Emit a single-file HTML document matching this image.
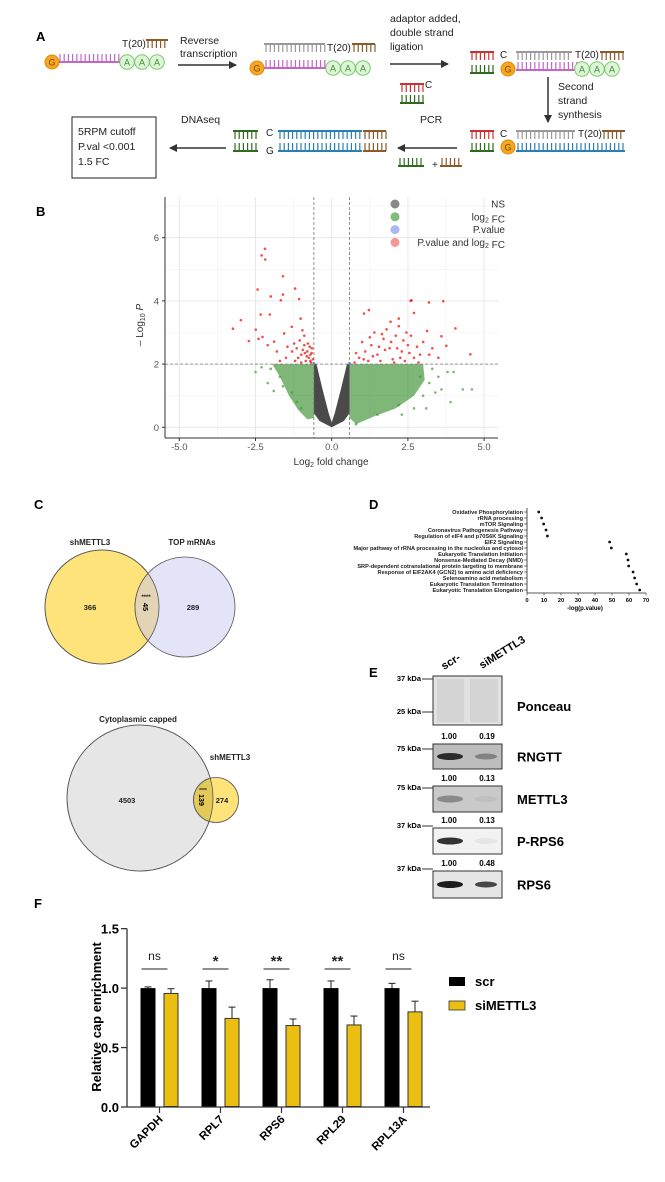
<!DOCTYPE html>
<html><head><meta charset="utf-8"><style>
html,body{margin:0;padding:0;background:#fff;}
svg{display:block;font-family:"Liberation Sans",sans-serif;}
.b{font-weight:bold;}
</style></head><body>
<svg id="fig" width="665" height="1182" viewBox="0 0 665 1182" xmlns="http://www.w3.org/2000/svg">
<defs>
<marker id="ah" markerWidth="8" markerHeight="8" refX="7" refY="4" orient="auto" markerUnits="userSpaceOnUse"><path d="M0,0 L8,4 L0,8 z" fill="#333"/></marker>
</defs>
<text x="36" y="41" class="b" font-size="13">A</text>
<text x="36" y="216" class="b" font-size="13">B</text>
<text x="34" y="509" class="b" font-size="13">C</text>
<text x="369" y="509" class="b" font-size="13">D</text>
<text x="369" y="677" class="b" font-size="13">E</text>
<text x="34" y="908" class="b" font-size="13">F</text>

<g id="panelA" font-size="10.5" fill="#222">
<text x="180" y="44"><tspan x="180">Reverse</tspan><tspan x="180" dy="13">transcription</tspan></text>
<line x1="178" y1="65" x2="236" y2="65" stroke="#333" stroke-width="1.5" marker-end="url(#ah)"/>
<text x="390" y="22"><tspan x="390">adaptor added,</tspan><tspan x="390" dy="14">double strand</tspan><tspan x="390" dy="14">ligation</tspan></text>
<line x1="390" y1="64" x2="448" y2="64" stroke="#333" stroke-width="1.5" marker-end="url(#ah)"/>
<text x="558" y="90"><tspan x="558">Second</tspan><tspan x="558" dy="14">strand</tspan><tspan x="558" dy="14">synthesis</tspan></text>
<line x1="548" y1="77" x2="548" y2="122" stroke="#333" stroke-width="1.5" marker-end="url(#ah)"/>
<text x="420" y="123">PCR</text>
<line x1="457" y1="148" x2="398" y2="148" stroke="#333" stroke-width="1.5" marker-end="url(#ah)"/>
<text x="181" y="123">DNAseq</text>
<line x1="226" y1="148" x2="170" y2="148" stroke="#333" stroke-width="1.5" marker-end="url(#ah)"/>
<rect x="72" y="117" width="84" height="61" fill="#fff" stroke="#222" stroke-width="1"/>
<text x="78" y="135"><tspan x="78">5RPM cutoff</tspan><tspan x="78" dy="15">P.val &lt;0.001</tspan><tspan x="78" dy="15">1.5 FC</tspan></text>
<text x="432" y="168" font-size="10">+</text>
</g>

<g id="volcano"></g>
<g id="venn"></g>
<g id="dotplot"></g>
<g id="western"></g>
<g id="bars"></g>
</svg>
<script>
var NS="http://www.w3.org/2000/svg";
function mk(tag,attrs,parent,text){var e=document.createElementNS(NS,tag);for(var k in attrs)e.setAttribute(k,attrs[k]);if(text!==undefined)e.textContent=text;parent.appendChild(e);return e;}

var A=document.getElementById('panelA');
function comb(x1,x2,y,up,color){
  var g=mk('g',{},A);
  
  
  mk('line',{x1:x1,y1:y,x2:x2,y2:y,stroke:color,'stroke-width':2},g);
  for(var x=x1+2;x<=x2;x+=4.2){mk('line',{x1:x,y1:y,x2:x,y2:up?y-8:y+8,stroke:color,'stroke-width':1.2},g);}
}
function capG(x,y){
  var c=mk('circle',{cx:x,cy:y,r:7,fill:'#f5a623',stroke:'#e08c00','stroke-width':1},A);
  
  
  mk('text',{x:x,y:y+3.5,'font-size':9,'text-anchor':'middle',fill:'#7a4a00'},A,'G');
}
function polyA(x,y){
  for(var i=0;i<3;i++){
    var c=mk('circle',{cx:x+i*15,cy:y,r:7.3,fill:'#dff5d8',stroke:'#7cc96c','stroke-width':1},A);
    
    
    mk('text',{x:x+i*15,y:y+3.5,'font-size':9,'text-anchor':'middle',fill:'#3a8a3a'},A,'A');
  }
}
function lbl(x,y,t){var e=mk('text',{x:x,y:y,'font-size':10},A,t);}
comb(58,120,62,true,'#c266c8');capG(52,62);polyA(127,62);lbl(122,47,'T(20)');comb(146,168,40,false,'#8b5a2b');
comb(264,325,44,false,'#999');comb(264,326,68,true,'#c266c8');capG(257,68);polyA(333,68);lbl(327,51,'T(20)');comb(352,375,44,false,'#8b5a2b');
comb(400,424,84,false,'#c83232');lbl(425,88,'C');comb(400,424,103,true,'#2e6b1f');
comb(470,494,52,false,'#c83232');comb(470,494,73,true,'#2e6b1f');lbl(500,58,'C');capG(508,69);
comb(516,572,52,false,'#999');comb(516,577,70,true,'#c266c8');polyA(582,69);lbl(575,58,'T(20)');comb(600,624,52,false,'#8b5a2b');
comb(470,494,131,false,'#c83232');comb(470,494,151,true,'#2e6b1f');lbl(500,137,'C');capG(508,147);
comb(516,575,131,false,'#999');lbl(578,137,'T(20)');comb(602,625,131,false,'#8b5a2b');comb(516,625,151,true,'#2a7fb0');
comb(233,258,131,false,'#2e6b1f');comb(233,258,151,true,'#2e6b1f');lbl(266,136,'C');lbl(266,154,'G');
comb(278,362,131,false,'#2a7fb0');comb(278,362,151,true,'#2a7fb0');comb(363,386,131,false,'#8b5a2b');comb(363,386,151,true,'#8b5a2b');
comb(398,424,166,true,'#2e6b1f');comb(440,462,166,true,'#8b5a2b');

var redPts=[[-2.19,5.65],[-2.30,5.44],[-2.18,5.31],[-1.60,4.78],[-2.43,4.36],[-1.20,4.39],[-2.0,4.14],[-1.60,4.2],[-1.67,4.02],[-1.07,4.06],[-2.98,3.39],[-3.24,3.12],[-2.49,3.09],[-2.33,3.57],[-2.03,3.57],[-2.72,2.73],[-2.27,2.86],[-1.89,2.71],[-1.56,2.97],[-1.31,3.18],[-1.02,3.44],[-0.96,3.07],[-1.45,2.55],[-1.23,2.65],
[-0.9,2.6],[-0.8,2.4],[-0.7,2.3],[-0.75,2.2],[-1.0,2.3],[-0.85,2.1],[-1.1,2.2],[-0.65,2.5],[-0.95,2.45],[-1.2,2.1],[-0.7,2.1],[-1.3,2.4],[-1.5,2.2],[-1.7,2.1],[-0.9,2.9],[-1.05,2.75],[-0.78,2.65],[-0.68,2.05],[-0.82,2.25],[-1.15,2.5],[-0.62,2.15],[-0.72,2.55],[-0.88,2.35],[-1.0,2.05],[-0.66,2.35],[-2.4,2.8],[-2.1,2.6],[-1.8,2.4],
[2.59,4.0],[2.62,4.02],[3.19,3.95],[3.66,3.99],[1.22,3.71],[1.06,3.6],[1.93,3.34],[2.2,3.44],[2.70,3.62],[4.06,3.13],[3.6,2.88],[3.76,2.58],[4.55,2.31],[3.13,3.05],
[0.9,2.2],[1.1,2.4],[1.3,2.6],[1.5,2.3],[1.7,2.8],[1.9,2.5],[2.1,2.9],[2.3,2.4],[2.5,2.6],[2.7,2.2],[2.9,2.3],[1.2,2.1],[1.6,2.1],[2.0,2.15],[2.4,2.1],[0.75,2.05],[1.0,2.7],[1.4,3.0],[1.8,3.1],[2.2,3.2],[2.6,2.9],[3.0,2.7],[3.3,2.5],[0.8,2.35],[1.25,2.85],[2.05,2.05],[2.8,2.55],[3.5,2.2],[1.55,2.55],[2.35,2.75],[1.95,2.7],[2.45,3.0],[1.35,2.25],[1.75,2.45],[2.15,2.5],[2.55,2.35],[1.05,2.15],[2.85,2.05],[3.2,2.3],[1.65,2.95],[2.25,2.2]];
var greenPts=[[-2.5,1.75],[-2.1,1.4],[-1.9,1.15],[-1.7,1.6],[-2.3,1.9],[-2.0,1.85],[-1.3,1.1],[-1.0,0.6],[-1.6,1.3],[-1.15,0.8],[3.2,1.4],[3.4,1.1],[3.6,1.2],[3.9,0.8],[4.3,1.2],[4.6,1.2],[4.0,1.75],[3.8,1.75],[3.3,1.85],[2.3,0.4],[2.7,0.6],[1.5,0.4],[0.8,0.1],[3.0,1.0],[3.1,0.6],[2.9,1.6],[3.5,1.6],[2.2,0.7]];
var greenLeft=[[-0.585,0.3],[-0.585,2.0],[-1.95,2.0],[-1.7,1.6],[-1.4,1.0],[-1.1,0.55],[-0.8,0.25]];
var greenRight=[[0.585,0.3],[0.585,2.0],[3.0,2.0],[3.05,1.5],[2.7,1.0],[2.1,0.6],[1.4,0.35],[0.8,0.1]];
var greyV=[[0,0],[-0.4,0.2],[-0.585,0.45],[-0.585,2.0],[-0.5,2.0],[-0.3,1.2],[-0.1,0.45],[0,0.15],[0.1,0.45],[0.3,1.2],[0.5,2.0],[0.585,2.0],[0.585,0.45],[0.4,0.2]];
var vxTicks=[-5.0,-2.5,0.0,2.5,5.0];
var vyTicks=[0,2,4,6];
(function(){
 var g=document.getElementById('volcano');
 var L=165,R=498,T=197,B=438;
 function X(v){return 331.7+v*30.48;}
 function Y(v){return 427.3-v*31.6;}
 [-3.75,-1.25,1.25,3.75].forEach(function(v){var e=mk('line',{x1:X(v),x2:X(v),y1:T,y2:B,stroke:'#f0f0f0','stroke-width':0.6},g);});
 [1,3,5,7].forEach(function(v){var e=mk('line',{x1:L,x2:R,y1:Y(v),y2:Y(v),stroke:'#f0f0f0','stroke-width':0.6},g);});
 vxTicks.forEach(function(v){var e=mk('line',{x1:X(v),x2:X(v),y1:T,y2:B,stroke:'#e6e6e6','stroke-width':0.9},g);
   var t=mk('text',{x:X(v),y:B+12,'font-size':9.5,'text-anchor':'middle',fill:'#555'},g,v.toFixed(1));
   mk('line',{x1:X(v),x2:X(v),y1:B,y2:B+3,stroke:'#333'},g);});
 vyTicks.forEach(function(v){var e=mk('line',{x1:L,x2:R,y1:Y(v),y2:Y(v),stroke:'#e6e6e6','stroke-width':0.9},g);
   var t=mk('text',{x:L-6,y:Y(v)+3.5,'font-size':9.5,'text-anchor':'end',fill:'#555'},g,String(v));
   mk('line',{x1:L-3,x2:L,y1:Y(v),y2:Y(v),stroke:'#333'},g);});
 function poly(arr,fill,op,name){var e=mk('polygon',{points:arr.map(function(p){return X(p[0])+','+Y(p[1]);}).join(' '),fill:fill,'fill-opacity':op},g);}
 poly(greenLeft,'#2f8a25',0.62,'log2fc-density-left');
 poly(greenRight,'#2f8a25',0.62,'log2fc-density-right');
 greenPts.forEach(function(p){var c=mk('circle',{cx:X(p[0]),cy:Y(p[1]),r:1.3,fill:'#3f9a34','fill-opacity':0.7},g);});
 poly(greyV,'#4a4a4a',1,'ns-density');
 redPts.forEach(function(p){var c=mk('circle',{cx:X(p[0]),cy:Y(p[1]),r:1.3,fill:'#f02020','fill-opacity':0.8},g);});
 [[-0.585,2.02],[0.585,2.02]].forEach(function(p){var c=mk('circle',{cx:X(p[0]),cy:Y(p[1]),r:1.5,fill:'#7f8ff0'},g);});
 [-0.585,0.585].forEach(function(v){var e=mk('line',{x1:X(v),x2:X(v),y1:T,y2:B,stroke:'#777','stroke-dasharray':'3,2','stroke-width':0.8},g);});
 var h=mk('line',{x1:L,x2:R,y1:Y(2),y2:Y(2),stroke:'#777','stroke-dasharray':'3,2','stroke-width':0.8},g);
 mk('line',{x1:L,x2:L,y1:T,y2:B,stroke:'#333','stroke-width':1},g);
 mk('line',{x1:L,x2:R,y1:B,y2:B,stroke:'#333','stroke-width':1},g);
 var xt=mk('text',{x:331,y:465,'font-size':10,'text-anchor':'middle',fill:'#333'},g);
 xt.innerHTML='Log<tspan font-size="7" dy="2">2</tspan><tspan dy="-2"> fold change</tspan>';
 var yt=mk('text',{x:0,y:0,'font-size':10,'text-anchor':'middle',fill:'#333',transform:'translate(143,325) rotate(-90)'},g);
 yt.innerHTML='– Log<tspan font-size="7" dy="2">10</tspan><tspan dy="-2" font-style="italic"> P</tspan>';
 var leg=[['NS','#4a4a4a'],['log2 FC','#3f9a34'],['P.value','#7f8ff0'],['P.value and log2 FC','#f06060']];
 leg.forEach(function(l,i){var y=204+i*12.8;var c=mk('circle',{cx:395,cy:y,r:4.5,fill:l[1],'fill-opacity':0.65},g);
   var t=mk('text',{x:505,y:y+3.5,'font-size':10,'text-anchor':'end',fill:'#333'},g);
   t.innerHTML=l[0].replace(/log2/,'log<tspan font-size="7" dy="2">2</tspan><tspan dy="-2"></tspan>');});
})();

(function(){
 var g=document.getElementById('venn');
 var a=mk('circle',{cx:102,cy:607,r:57,fill:'#fde37a',stroke:'#555','stroke-width':0.8},g);
 var b=mk('circle',{cx:185,cy:607,r:50,fill:'#e4e4f8',stroke:'#555','stroke-width':0.8},g);
 mk('clipPath',{id:'clipA'},g).appendChild(document.createElementNS(NS,'circle'));
 var cc=document.querySelector('#clipA circle');cc.setAttribute('cx',102);cc.setAttribute('cy',607);cc.setAttribute('r',57);
 var i=mk('circle',{cx:185,cy:607,r:50,fill:'#e3d4b6',stroke:'#555','stroke-width':0.8,'clip-path':'url(#clipA)'},g);
 mk('circle',{cx:102,cy:607,r:57,fill:'none',stroke:'#555','stroke-width':0.8},g);
 var c2=mk('circle',{cx:140,cy:798,r:73,fill:'#e6e6e6',stroke:'#555','stroke-width':0.8},g);
 var d2=mk('circle',{cx:216,cy:800,r:22.5,fill:'#fde37a',stroke:'#555','stroke-width':0.8},g);
 mk('clipPath',{id:'clipC'},g).appendChild(document.createElementNS(NS,'circle'));
 var cc2=document.querySelector('#clipC circle');cc2.setAttribute('cx',140);cc2.setAttribute('cy',798);cc2.setAttribute('r',73);
 var i2=mk('circle',{cx:216,cy:800,r:22.5,fill:'#e3c95a',stroke:'#555','stroke-width':0.8,'clip-path':'url(#clipC)'},g);
 mk('circle',{cx:140,cy:798,r:73,fill:'none',stroke:'#555','stroke-width':0.8},g);
 var T=[[90,545,'shMETTL3',8],[192,545,'TOP mRNAs',8],[90,610,'366',7.5],[193,610,'289',7.5],[138,722,'Cytoplasmic capped',8],[230,760,'shMETTL3',8],[127,803,'4503',7.5],[222,803,'274',7.5],[146,599,'****',6],[203,792,'****',5]];
 T.forEach(function(t){var e=mk('text',{x:t[0],y:t[1],'font-size':t[3],'text-anchor':'middle','font-weight':'bold',fill:'#222'},g,t[2]);});
 var r1=mk('text',{x:0,y:0,'font-size':7.5,'text-anchor':'middle','font-weight':'bold',transform:'translate(143,607) rotate(90)'},g,'45');
 var r2=mk('text',{x:0,y:0,'font-size':7,'text-anchor':'middle','font-weight':'bold',transform:'translate(199,800) rotate(90)'},g,'139');
})();

var pathways=['Oxidative Phosphorylation','rRNA processing','mTOR Signaling','Coronavirus Pathogenesis Pathway','Regulation of eIF4 and p70S6K Signaling','EIF2 Signaling','Major pathway of rRNA processing in the nucleolus and cytosol','Eukaryotic Translation Initiation','Nonsense-Mediated Decay (NMD)','SRP-dependent cotranslational protein targeting to membrane','Response of EIF2AK4 (GCN2) to amino acid deficiency','Selenoamino acid metabolism','Eukaryotic Translation Termination','Eukaryotic Translation Elongation'];
var logP=[6.9,8.6,9.8,11.2,12.0,48.6,49.6,58.4,59.4,59.8,62.4,63.3,64.5,66.3];
var dTicks=[0,10,20,30,40,50,60,70];
(function(){
 var g=document.getElementById('dotplot');
 var x0=527,sx=1.7,y0=512,dy=6.0,base=593;
 function X(v){return x0+v*sx;}
 function Y(i){return y0+i*dy;}
 mk('line',{x1:x0,x2:x0,y1:508,y2:base,stroke:'#222','stroke-width':0.8},g);
 mk('line',{x1:x0,x2:X(70),y1:base,y2:base,stroke:'#222','stroke-width':0.8},g);
 pathways.forEach(function(p,i){
  var t=mk('text',{x:x0-4,y:Y(i)+2,'font-size':5.6,'text-anchor':'end','font-weight':'bold',fill:'#222'},g,p);
  mk('line',{x1:x0-3,x2:x0,y1:Y(i),y2:Y(i),stroke:'#222','stroke-width':0.6},g);
  var c=mk('circle',{cx:X(logP[i]),cy:Y(i),r:1.4,fill:'#111'},g);
 });
 dTicks.forEach(function(v){mk('line',{x1:X(v),x2:X(v),y1:base,y2:base+2.5,stroke:'#222','stroke-width':0.6},g);
  var t=mk('text',{x:X(v),y:base+9,'font-size':5.8,'text-anchor':'middle','font-weight':'bold'},g,String(v));});
 var xt=mk('text',{x:585,y:610,'font-size':6,'text-anchor':'middle','font-weight':'bold'},g,'-log(p.value)');
})();

var blots=['Ponceau','RNGTT','METTL3','P-RPS6','RPS6'];
var quantScr=['','1.00','1.00','1.00','1.00'];
var quantSi=['','0.19','0.13','0.13','0.48'];
(function(){
 var g=document.getElementById('western');
 var box=[[676,725],[744,769],[786,812],[828,854],[871,898]];
 var bg=['#e2e2e2','#bdbdbd','#c9c9c9','#f2f2f2','#e6e6e6'];
 var bandScr=[0.15,0.85,0.35,0.85,0.95];
 var bandSi=[0.15,0.35,0.05,0.05,0.75];
 blots.forEach(function(n,i){
  var r=mk('rect',{x:433,y:box[i][0],width:69,height:box[i][1]-box[i][0],fill:bg[i],stroke:'#333','stroke-width':1},g);
  var mid=(box[i][0]+box[i][1])/2;
  if(i===0){mk('rect',{x:437,y:box[i][0]+3,width:27,height:43,fill:'#d4d4d4'},g);mk('rect',{x:470,y:box[i][0]+3,width:28,height:43,fill:'#d4d4d4'},g);}
  else{
   mk('ellipse',{cx:450,cy:mid,rx:13,ry:3.5,fill:'#111','fill-opacity':bandScr[i]},g);
   mk('ellipse',{cx:486,cy:mid,rx:11,ry:3,fill:'#111','fill-opacity':bandSi[i]},g);
   var q1=mk('text',{x:449,y:box[i][0]-5,'font-size':8,'text-anchor':'middle','font-weight':'bold'},g,quantScr[i]);
   var q2=mk('text',{x:487,y:box[i][0]-5,'font-size':8,'text-anchor':'middle','font-weight':'bold'},g,quantSi[i]);
  }
  var t=mk('text',{x:517,y:(i===0?711:mid+5),'font-size':13,'font-weight':'bold'},g,n);
 });
 var kda=[[679,'37 kDa'],[712,'25 kDa'],[749,'75 kDa'],[788,'75 kDa'],[826,'37 kDa'],[869,'37 kDa']];
 kda.forEach(function(k){mk('line',{x1:422,x2:433,y1:k[0],y2:k[0],stroke:'#333','stroke-width':1},g);
  var t=mk('text',{x:421,y:k[0]+2,'font-size':7.5,'text-anchor':'end','font-weight':'bold'},g,k[1]);});
 var s=mk('text',{x:0,y:0,'font-size':11,'font-weight':'bold',transform:'translate(444,670) rotate(-32)'},g,'scr-');
 var s2=mk('text',{x:0,y:0,'font-size':11,'font-weight':'bold',transform:'translate(482,669) rotate(-32)'},g,'siMETTL3');
})();

var genes=['GAPDH','RPL7','RPS6','RPL29','RPL13A'];
var scrVals=[1.0,1.0,1.0,1.0,1.0];
var scrErr=[0.01,0.06,0.07,0.06,0.04];
var siVals=[0.955,0.745,0.685,0.69,0.80];
var siErr=[0.04,0.095,0.055,0.075,0.09];
var sigLabels=['ns','*','**','**','ns'];
var fTicks=[0.0,0.5,1.0,1.5];
(function(){
 var g=document.getElementById('bars');
 var x0=127,y0=1107,sy=118.9,gap=61,c0=159.5,bw=15;
 function Y(v){return y0-v*sy;}
 function C(i){return c0+i*gap;}
 genes.forEach(function(n,i){
  var xb=C(i)-19,xy=C(i)+4;
  var e1=mk('line',{x1:xb+bw/2,x2:xb+bw/2,y1:Y(scrVals[i]),y2:Y(scrVals[i]+scrErr[i]),stroke:'#222','stroke-width':1},g);
  mk('line',{x1:xb+bw/2-3.5,x2:xb+bw/2+3.5,y1:Y(scrVals[i]+scrErr[i]),y2:Y(scrVals[i]+scrErr[i]),stroke:'#222','stroke-width':1},g);
  
  var b1=mk('rect',{x:xb,y:Y(scrVals[i]),width:bw,height:scrVals[i]*sy,fill:'#000'},g);
  var e2=mk('line',{x1:xy+bw/2,x2:xy+bw/2,y1:Y(siVals[i]),y2:Y(siVals[i]+siErr[i]),stroke:'#222','stroke-width':1},g);
  mk('line',{x1:xy+bw/2-3.5,x2:xy+bw/2+3.5,y1:Y(siVals[i]+siErr[i]),y2:Y(siVals[i]+siErr[i]),stroke:'#222','stroke-width':1},g);
  
  var b2=mk('rect',{x:xy+0.5,y:Y(siVals[i]),width:bw-1,height:siVals[i]*sy-0.5,fill:'#eabf12',stroke:'#333','stroke-width':1},g);
  var sl=mk('line',{x1:C(i)-18,x2:C(i)+8,y1:969,y2:969,stroke:'#222','stroke-width':1},g);
  var st=mk('text',{x:C(i)-5,y:sigLabels[i]==='ns'?960:966,'font-size':sigLabels[i]==='ns'?12:15,'text-anchor':'middle',fill:'#222','font-weight':sigLabels[i]==='ns'?'normal':'bold'},g,sigLabels[i]);
  mk('line',{x1:C(i),x2:C(i),y1:y0,y2:y0+6,stroke:'#333','stroke-width':1.2},g);
  var xl=mk('text',{x:0,y:0,'font-size':11.5,'font-weight':'bold','text-anchor':'end',transform:'translate('+(C(i)+4)+','+(y0+13)+') rotate(-45)'},g,n);
 });
 mk('line',{x1:x0,x2:x0,y1:Y(1.5),y2:y0,stroke:'#333','stroke-width':1.3},g);
 mk('line',{x1:x0,x2:430,y1:y0,y2:y0,stroke:'#333','stroke-width':1.3},g);
 fTicks.forEach(function(v){mk('line',{x1:x0-6,x2:x0,y1:Y(v),y2:Y(v),stroke:'#333','stroke-width':1.3},g);
  var t=mk('text',{x:x0-8,y:Y(v)+5,'font-size':13,'font-weight':'bold','text-anchor':'end'},g,v.toFixed(1));});
 var yt=mk('text',{x:0,y:0,'font-size':13,'font-weight':'bold','text-anchor':'middle',transform:'translate(101,1017) rotate(-90)'},g,'Relative cap enrichment');
 var l1=mk('rect',{x:449,y:977,width:16,height:9,fill:'#000'},g);
 var t1=mk('text',{x:475,y:986,'font-size':13,'font-weight':'bold'},g,'scr');
 var l2=mk('rect',{x:449,y:1001,width:16,height:9,fill:'#eabf12',stroke:'#333','stroke-width':0.8},g);
 var t2=mk('text',{x:475,y:1010,'font-size':13,'font-weight':'bold'},g,'siMETTL3');
})();
</script>
</body></html>
